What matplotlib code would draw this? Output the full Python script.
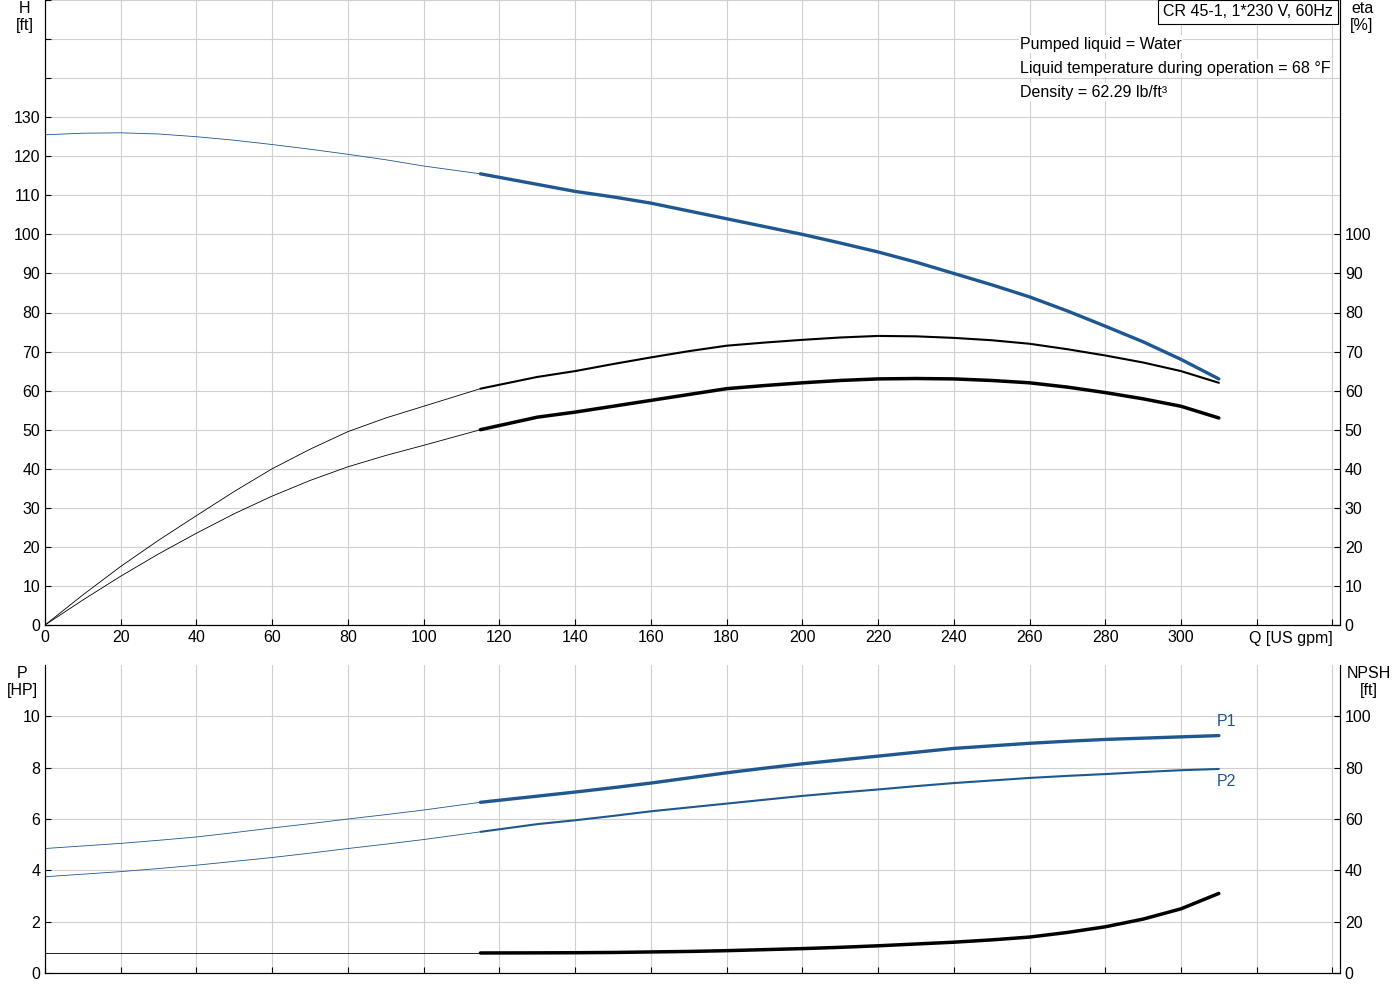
import matplotlib.pyplot as plt
import numpy as np

plt.rcParams['font.family'] = ['Arial', 'Liberation Sans', 'DejaVu Sans']
plt.rcParams['font.size'] = 11

q = [0, 10, 20, 30, 40, 50, 60, 70, 80, 90, 100, 115, 130, 140, 150, 160, 170, 180, 190, 200,
     210, 220, 230, 240, 250, 260, 270, 280, 290, 300, 310]
head = [125.5, 125.9, 126, 125.7, 125, 124.1, 123, 121.8, 120.5, 119.1, 117.5, 115.5, 112.8, 111, 109.6,
        108, 106, 104, 102, 100, 97.8, 95.5, 92.9, 90, 87.1, 84, 80.4, 76.5, 72.5, 68, 63]
eta_a = [0, 7.7, 15, 21.7, 28, 34.2, 40, 45, 49.5, 53, 56, 60.5, 63.5, 65, 66.8, 68.5, 70.1, 71.5,
         72.3, 73, 73.6, 74, 73.9, 73.5, 72.9, 72, 70.6, 69, 67.2, 65, 62]
eta_b = [0, 6.4, 12.5, 18.2, 23.5, 28.5, 33, 37, 40.5, 43.4, 46, 50, 53.2, 54.5, 56, 57.5, 59, 60.5,
         61.3, 62, 62.6, 63, 63.1, 63, 62.6, 62, 60.9, 59.5, 57.9, 56, 53]
p1 = [4.85, 4.95, 5.05, 5.17, 5.3, 5.47, 5.65, 5.82, 6.0, 6.17, 6.35, 6.65, 6.89, 7.05, 7.22, 7.4, 7.6,
      7.8, 7.98, 8.15, 8.3, 8.45, 8.6, 8.75, 8.85, 8.95, 9.03, 9.1, 9.15, 9.2, 9.25]
p2 = [3.75, 3.85, 3.95, 4.07, 4.2, 4.35, 4.5, 4.67, 4.85, 5.02, 5.2, 5.5, 5.8, 5.95, 6.12, 6.3, 6.45,
      6.6, 6.75, 6.9, 7.03, 7.15, 7.28, 7.4, 7.5, 7.6, 7.68, 7.75, 7.83, 7.9, 7.95]
npsh = [7.8, 7.8, 7.8, 7.8, 7.8, 7.8, 7.8, 7.8, 7.8, 7.8, 7.8, 7.8, 7.85, 7.9, 8.0, 8.2, 8.4, 8.7,
        9.1, 9.5, 10.0, 10.6, 11.3, 12, 12.9, 14, 15.8, 18, 21, 25, 31]

blue = '#1f5790'
split = q.index(115)  # start of thick (operating) range


def draw(ax, y, color, lw):
    ax.plot(q[:split + 1], y[:split + 1], color=color, lw=0.6)
    ax.plot(q[split:], y[split:], color=color, lw=lw, solid_capstyle='round')


fig = plt.figure(figsize=(14, 10), dpi=100)
ax1 = fig.add_axes([45 / 1400, 1 - 625 / 1000, 1295 / 1400, 625 / 1000])
ax2 = fig.add_axes([45 / 1400, 1 - 973 / 1000, 1295 / 1400, 308 / 1000])

for ax in (ax1, ax2):
    ax.set_xlim(0, 342)
    ax.set_xticks(np.arange(0, 341, 20))
    ax.grid(True, color='#d0d0d0', lw=0.8)
    ax.spines['top'].set_visible(False)
    ax.tick_params(direction='in', length=4, labelsize=11.5)

# top: head and efficiency
ax1.set_ylim(0, 160)
ax1.set_yticks(np.arange(0, 161, 10))
ax1.set_yticklabels([str(v) if v <= 130 else '' for v in range(0, 161, 10)])
ax1.set_xticklabels([str(v) for v in range(0, 301, 20)] + ['', ''])
ax1.text(329, -1.5, 'Q [US gpm]', ha='center', va='top', fontsize=11.5)
draw(ax1, head, blue, 2.4)
draw(ax1, eta_a, 'black', 1.5)
draw(ax1, eta_b, 'black', 2.5)
r1 = ax1.twinx()
r1.set_ylim(0, 160)
r1.set_yticks(np.arange(0, 101, 10))
r1.tick_params(direction='in', length=4, labelsize=11.5)
r1.spines['top'].set_visible(False)
fig.text(25 / 1400, 1 - 17 / 1000, 'H\n[ft]', ha='center', va='center', fontsize=11.5)
fig.text(1362 / 1400, 1 - 17 / 1000, 'eta\n[%]', ha='center', va='center', fontsize=11.5)
fig.text(1248 / 1400, 1 - 12 / 1000, 'CR 45-1, 1*230 V, 60Hz', ha='center', va='center', fontsize=11.5,
         bbox=dict(boxstyle='square,pad=0.3', fc='white', ec='black', lw=0.8))
for i, t in enumerate(['Pumped liquid = Water',
                       'Liquid temperature during operation = 68 °F',
                       'Density = 62.29 lb/ft³']):
    fig.text(1020 / 1400, 1 - (44 + 24 * i) / 1000, t, ha='left', va='center', fontsize=11.5,
             bbox=dict(fc='white', ec='none', pad=1))

# bottom: power and NPSH
ax2.set_ylim(0, 12)
ax2.set_yticks(np.arange(0, 11, 2))
ax2.set_xticklabels([])
draw(ax2, p1, blue, 2.4)
draw(ax2, p2, blue, 1.5)
ax2.text(312, 9.25 + 0.25, 'P1', color=blue, ha='center', va='bottom', fontsize=11.5)
ax2.text(312, 7.95 - 0.2, 'P2', color=blue, ha='center', va='top', fontsize=11.5)
r2 = ax2.twinx()
r2.set_ylim(0, 120)
r2.set_yticks(np.arange(0, 101, 20))
r2.tick_params(direction='in', length=4, labelsize=11.5)
r2.spines['top'].set_visible(False)
draw(r2, npsh, 'black', 2.5)
fig.text(22 / 1400, 1 - 682 / 1000, 'P\n[HP]', ha='center', va='center', fontsize=11.5)
fig.text(1369 / 1400, 1 - 682 / 1000, 'NPSH\n[ft]', ha='center', va='center', fontsize=11.5)

fig.savefig('out.png', dpi=100)
